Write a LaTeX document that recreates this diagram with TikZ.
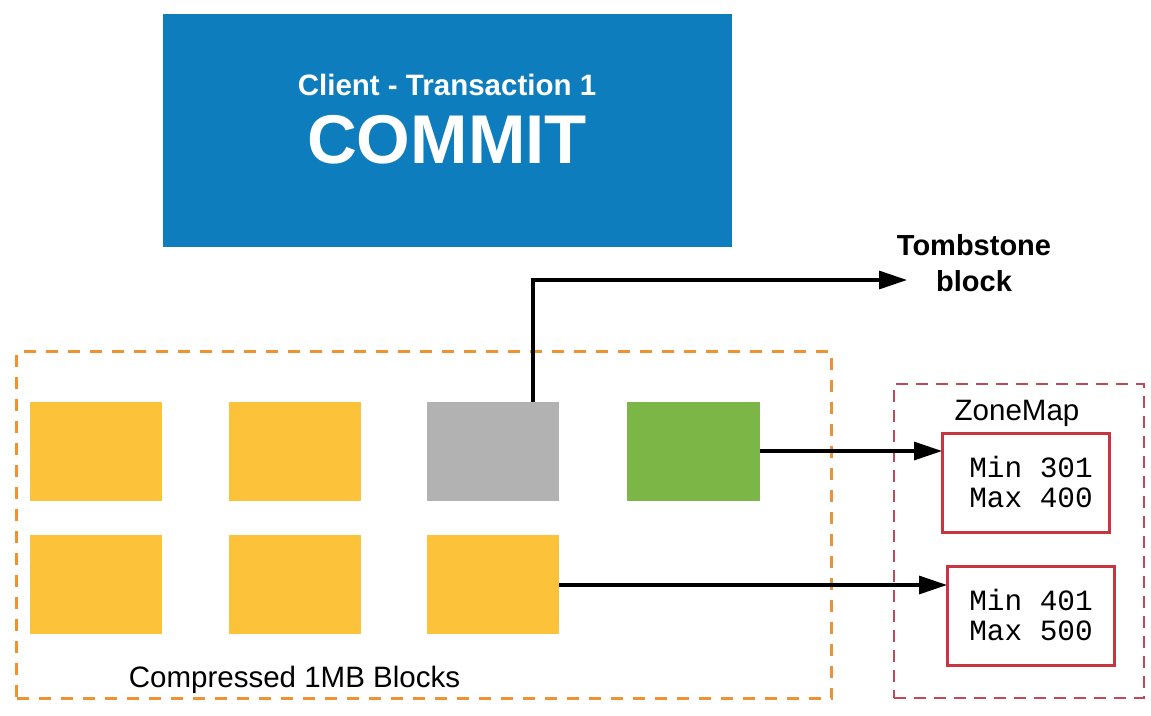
\documentclass[tikz,border=0pt]{standalone}
\usepackage{fontspec}
\setmainfont{Liberation Sans}
\setmonofont{Liberation Mono}
\usetikzlibrary{arrows.meta}
\definecolor{cblue}{HTML}{0E7DBE}
\definecolor{cyellow}{HTML}{FBC23A}
\definecolor{cgray}{HTML}{B2B2B2}
\definecolor{cgreen}{HTML}{7CB647}
\definecolor{corange}{HTML}{EE9333}
\definecolor{cred}{HTML}{C8343F}
\definecolor{cdash}{HTML}{C0485A}
\tikzset{
  blockbox/.style={draw=none, minimum width=132pt, minimum height=99pt, inner sep=0pt, outer sep=0pt},
  zonebox/.style={draw=cred, line width=3pt, inner sep=0pt, outer sep=0pt, minimum width=167pt, minimum height=99pt},
  conn/.style={line width=3.2pt, -{Triangle[length=28pt,width=18pt]}},
  txt/.style={inner sep=0pt, font=\fontsize{29.5}{34}\selectfont},
  monotxt/.style={inner sep=0pt, align=left, font=\ttfamily\fontsize{29.4}{30}\selectfont}
}
\begin{document}
\begin{tikzpicture}[x=1pt,y=-1pt]
\useasboundingbox (0,0) rectangle (1151,715);
% Commit box
\node[fill=cblue, minimum width=569pt, minimum height=233pt, inner sep=0pt, anchor=north west] (commit) at (163,14) {};
\node[txt, text=white, font=\bfseries\fontsize{29.5}{34}\selectfont] (client) at (447,85) {Client - Transaction 1};
\node[txt, text=white, font=\bfseries\fontsize{69}{80}\selectfont] (committxt) at (447,140) {COMMIT};
% Compressed blocks container
\node[draw=corange, line width=3pt, dash pattern=on 12pt off 10pt, minimum width=815pt, minimum height=347pt, inner sep=0pt, anchor=north west] (blocks) at (15,350) {};
\node[txt] (blockslabel) at (294.5,680) {Compressed 1MB Blocks};
% blocks
\node[blockbox, fill=cyellow, anchor=north west] (b11) at (30,402) {};
\node[blockbox, fill=cyellow, anchor=north west] (b12) at (229,402) {};
\node[blockbox, fill=cgray, anchor=north west] (b13) at (427,402) {};
\node[blockbox, fill=cgreen, anchor=north west, minimum width=133pt] (b14) at (627,402) {};
\node[blockbox, fill=cyellow, anchor=north west] (b21) at (30,535) {};
\node[blockbox, fill=cyellow, anchor=north west] (b22) at (229,535) {};
\node[blockbox, fill=cyellow, anchor=north west] (b23) at (427,535) {};
% Tombstone
\node[txt, align=center, font=\bfseries\fontsize{29}{36}\selectfont] (tomb) at (974,263) {Tombstone\\block};
\coordinate (bend) at (533,280);
\coordinate (tombend) at (907,280);
\draw[conn] (b13.north -| bend) -- (bend) -- (tombend);
% ZoneMap
\node[draw=cdash, line width=1.5pt, dash pattern=on 12pt off 8pt, minimum width=250pt, minimum height=314pt, inner sep=0pt, anchor=north west] (zonemap) at (893,383) {};
\node[txt] (zonelabel) at (1017,413) {ZoneMap};
\node[zonebox, anchor=north west] (z1) at (942,433) {};
\node[zonebox, anchor=north west] (z2) at (947,566) {};
\node[monotxt] (z1t) at (1031,482) {Min 301\\Max 400};
\node[monotxt] (z2t) at (1031,615) {Min 401\\Max 500};
% connectors
\draw[conn] (b14.east |- 0,451) -- (z1.west |- 0,451);
\draw[conn] (b23.east |- 0,585) -- (z2.west |- 0,585);
\end{tikzpicture}
\end{document}
